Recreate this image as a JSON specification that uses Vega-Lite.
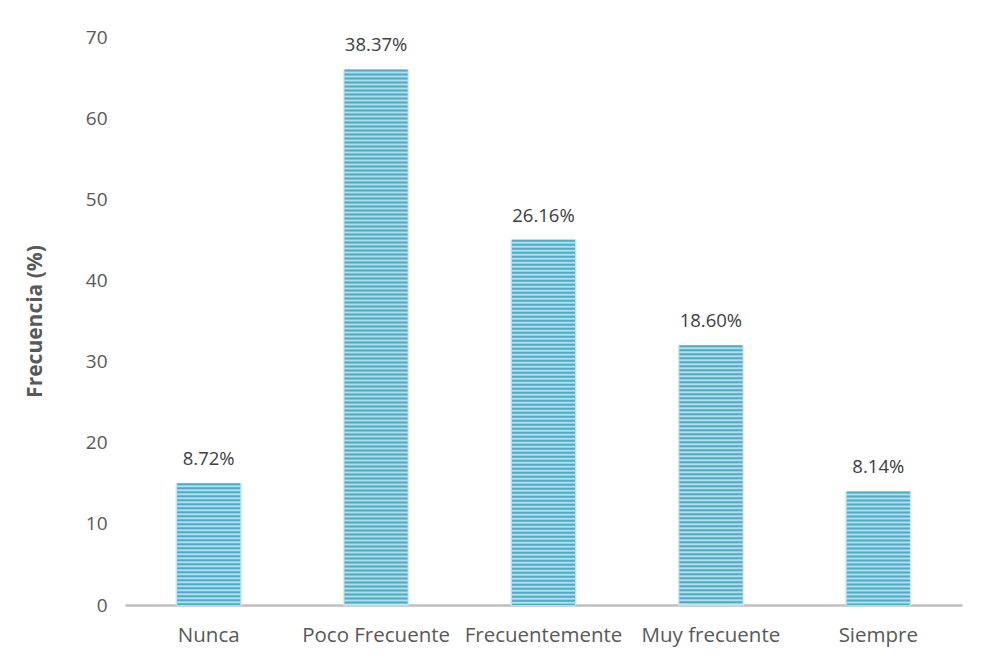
{
  "$schema": "https://vega.github.io/schema/vega-lite/v6.json",
  "width": 837,
  "height": 568,
  "autosize": "none",
  "padding": {"left": 125, "top": 37, "right": 19, "bottom": 56},
  "background": "white",
  "config": {
    "view": {"stroke": null},
    "font": "Open Sans"
  },
  "data": {
    "values": [
      {"categoria": "Nunca", "frecuencia": 15, "porcentaje": "8.72%"},
      {"categoria": "Poco Frecuente", "frecuencia": 66, "porcentaje": "38.37%"},
      {"categoria": "Frecuentemente", "frecuencia": 45, "porcentaje": "26.16%"},
      {"categoria": "Muy frecuente", "frecuencia": 32, "porcentaje": "18.60%"},
      {"categoria": "Siempre", "frecuencia": 14, "porcentaje": "8.14%"}
    ]
  },
  "encoding": {
    "x": {
      "field": "categoria",
      "type": "nominal",
      "sort": null,
      "scale": {"paddingInner": 0.61, "paddingOuter": 0.305},
      "axis": {
        "title": null,
        "labelAngle": 0,
        "labelFontSize": 20.5,
        "labelColor": "#595959",
        "labelPadding": 20,
        "ticks": false,
        "domainColor": "#bfbfbf",
        "domainWidth": 2.5,
        "grid": false
      }
    }
  },
  "layer": [
    {
      "mark": {"type": "bar", "color": "#b3dde8", "stroke": "#d6eef4", "strokeWidth": 1},
      "encoding": {
        "y": {
          "field": "frecuencia",
          "type": "quantitative",
          "scale": {"domain": [0, 70]},
          "axis": {
            "title": "Frecuencia (%)",
            "titleFontSize": 21,
            "titleFontWeight": "bold",
            "titleColor": "#595959",
            "titlePadding": 40,
            "values": [0, 10, 20, 30, 40, 50, 60, 70],
            "labelFontSize": 19,
            "labelColor": "#595959",
            "labelPadding": 18,
            "ticks": false,
            "domain": false,
            "grid": false
          }
        }
      }
    },
    {
      "mark": {"type": "rule", "color": "#4bacc6", "strokeWidth": 63, "strokeDash": [2, 2], "strokeCap": "butt"},
      "encoding": {
        "y": {"field": "frecuencia", "type": "quantitative"},
        "y2": {"datum": 0}
      }
    },
    {
      "mark": {"type": "text", "dy": -24, "fontSize": 18.5, "color": "#404040"},
      "encoding": {
        "y": {"field": "frecuencia", "type": "quantitative"},
        "text": {"field": "porcentaje"}
      }
    }
  ]
}
